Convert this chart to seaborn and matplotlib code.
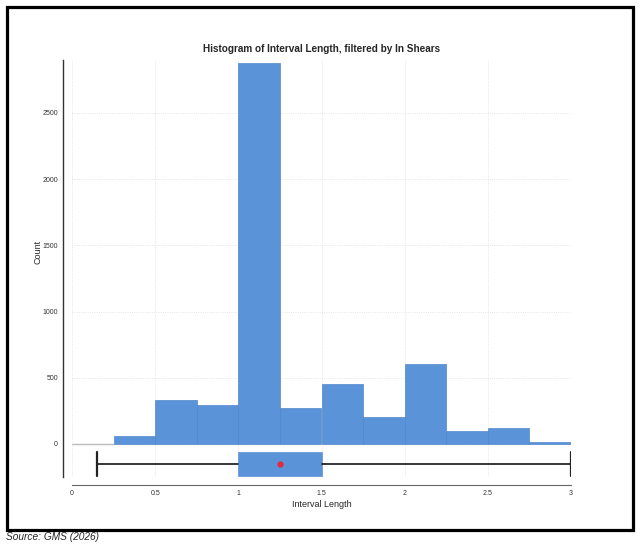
import numpy as np
import pandas as pd
import matplotlib
matplotlib.use("Agg")
import matplotlib.pyplot as plt
import seaborn as sns
from matplotlib.patches import Rectangle

# histogram bins (width 0.25) and counts
bin_edges = [0, 0.25, 0.5, 0.75, 1.0, 1.25, 1.5, 1.75, 2.0, 2.25, 2.5, 2.75, 3.0]
counts = [0, 62, 330, 295, 2878, 270, 455, 200, 605, 100, 120, 18]

# box plot summary of interval length
box_stats = {"whislo": 0.15, "q1": 1.0, "med": 1.25, "q3": 1.5,
             "whishi": 3.0, "mean": 1.25, "fliers": []}

y_ticks = [0, 500, 1000, 1500, 2000, 2500]
x_ticks = [0, 0.5, 1, 1.5, 2, 2.5, 3]
x_tick_labels = ["0", "0.5", "1", "1.5", "2", "2.5", "3"]

centers = [(a + b) / 2 for a, b in zip(bin_edges[:-1], bin_edges[1:])]
df = pd.DataFrame({"length": centers, "count": counts})

sns.set_style("white")
plt.rcParams["font.family"] = ["Liberation Sans", "DejaVu Sans"]

bar_color = "#5B93D9"

fig = plt.figure(figsize=(6.41, 5.44), dpi=100)
ax = fig.add_axes([72 / 641, 67 / 544, 499 / 641, 417 / 544])

sns.histplot(data=df, x="length", weights="count", bins=bin_edges,
             color=bar_color, alpha=1, edgecolor="#4f86cc", linewidth=0.5, ax=ax)
for p in ax.patches:
    if p.get_height() == 0:
        p.set_edgecolor("#bbbbbb")
        p.set_linewidth(1)

ax.bxp([box_stats], positions=[-151], widths=182, capwidths=182,
       orientation="horizontal", patch_artist=True, showmeans=True,
       boxprops=dict(facecolor=bar_color, edgecolor=bar_color, linewidth=0.5),
       medianprops=dict(linewidth=0),
       whiskerprops=dict(color="black", linewidth=1.1),
       capprops=dict(color="#222222", linewidth=1.6),
       meanprops=dict(marker="o", markerfacecolor="#E8283C",
                      markeredgecolor="#E8283C", markersize=3.5),
       manage_ticks=False)

ax.set_xlim(0, 3)
ax.set_ylim(-250, 2900)
ax.set_xticks(x_ticks)
ax.set_xticklabels(x_tick_labels)
ax.set_yticks(y_ticks)

ax.grid(True, color="#dddddd", linestyle=":", linewidth=0.6)
ax.set_axisbelow(True)

sns.despine(ax=ax, offset={"left": 6.5, "bottom": 6})
ax.spines["left"].set_color("#333333")
ax.spines["left"].set_linewidth(1)
ax.spines["bottom"].set_color("#666666")
ax.spines["bottom"].set_linewidth(0.8)
ax.spines["bottom"].set_bounds(0, 3)

ax.tick_params(axis="both", labelsize=5, colors="#444444", length=2,
               width=0.5, pad=1.5)
for t in ax.get_xticklabels() + ax.get_yticklabels():
    t.set_color("#333333")

ax.set_xlabel("Interval Length", fontsize=6.5, labelpad=2)
ax.set_ylabel("Count", fontsize=6.5)
ax.yaxis.set_label_coords(-0.06, 0.54)
ax.set_title("Histogram of Interval Length, filtered by In Shears",
             fontsize=7.2, fontweight="bold", pad=6)

# black frame around the chart and source note below it
fig.patches.append(Rectangle((7 / 641, 14 / 544), 626 / 641, 523 / 544,
                             transform=fig.transFigure, fill=False,
                             edgecolor="black", linewidth=2.3))
fig.text(6 / 641, 7 / 544, "Source: GMS (2026)", fontsize=7.3,
         fontstyle="italic", va="center", ha="left")

fig.savefig("out.png", dpi=100)
